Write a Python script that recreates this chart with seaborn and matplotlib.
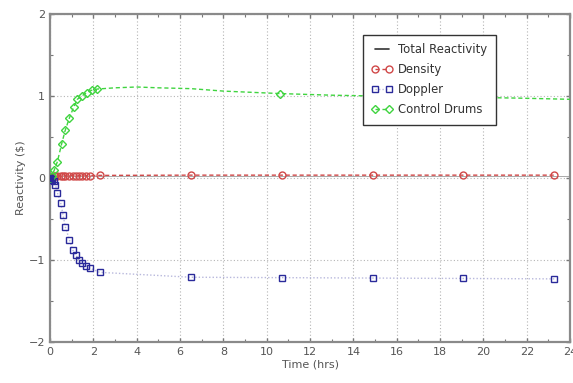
import matplotlib
matplotlib.use("Agg")
import matplotlib.pyplot as plt
import seaborn as sns
import numpy as np
import pandas as pd

# ---- data ----
time_pts = [0.0, 0.05, 0.1, 0.17, 0.25, 0.34, 0.49, 0.6, 0.71, 0.89, 1.05, 1.19,
            1.34, 1.46, 1.65, 1.85, 2.29, 6.5, 10.69, 14.89, 19.07, 23.27]
density = [0.0, 0.01, 0.015, 0.02, 0.025, 0.028, 0.03, 0.03, 0.03, 0.03, 0.03, 0.03,
           0.03, 0.03, 0.03, 0.03, 0.032, 0.035, 0.035, 0.035, 0.035, 0.035]
doppler = [0.0, -0.01, -0.02, -0.04, -0.08, -0.18, -0.30, -0.45, -0.60, -0.75, -0.88, -0.94,
           -1.0, -1.04, -1.07, -1.10, -1.15, -1.21, -1.215, -1.22, -1.225, -1.23]

time_cd = [0.0, 0.1, 0.2, 0.34, 0.54, 0.7, 0.89, 1.1, 1.26, 1.46, 1.69, 1.92, 2.18,
           3.0, 4.0, 5.0, 6.5, 8.0, 10.6, 13.0, 15.0, 17.0, 19.0, 21.5, 24.0]
control_drums = [0.0, 0.03, 0.1, 0.2, 0.42, 0.58, 0.73, 0.87, 0.96, 1.0, 1.04, 1.07, 1.085,
                 1.1, 1.11, 1.1, 1.09, 1.06, 1.03, 1.01, 1.0, 0.99, 0.985, 0.975, 0.96]
cd_marker_idx = [0, 1, 2, 3, 4, 5, 6, 7, 8, 9, 10, 11, 12, 18, 22]

time_total = [0.0, 24.0]
total = [0.02, 0.02]

x_ticks = list(range(0, 25, 2))
y_ticks = [-2, -1, 0, 1, 2]

# ---- figure ----
sns.set_style("ticks")
plt.rcParams['font.family'] = ['DejaVu Sans']
fig, ax = plt.subplots(figsize=(5.73, 3.83), dpi=100)
fig.subplots_adjust(left=0.0873, right=0.995, top=0.9634, bottom=0.107)

red = "#d04848"
blue = "#2a2a9a"
green = "#3fd43f"

sns.lineplot(x=time_total, y=total, ax=ax, color="#222222", lw=0.6, alpha=0.45,
             estimator=None, sort=False, label="Total Reactivity", zorder=2)
sns.lineplot(x=time_pts, y=density, ax=ax, color=red, lw=1.0, linestyle=(0, (3, 2)),
             marker="o", markersize=5, markerfacecolor="none", markeredgecolor=red,
             markeredgewidth=1.0, estimator=None, sort=False, label="Density", zorder=3)
sns.lineplot(x=time_pts, y=doppler, ax=ax, color="#b8b8dc", lw=1.0, linestyle=(0, (1, 1.5)),
             marker="s", markersize=5, markerfacecolor="none", markeredgecolor=blue,
             markeredgewidth=1.0, estimator=None, sort=False, label="Doppler", zorder=3)
sns.lineplot(x=time_cd, y=control_drums, ax=ax, color=green, lw=1.0, linestyle=(0, (3, 2)),
             marker="D", markersize=4, markerfacecolor="none", markeredgecolor=green,
             markeredgewidth=1.0, markevery=cd_marker_idx, estimator=None, sort=False,
             label="Control Drums", zorder=3)

# filled cluster at origin
ax.plot([0], [0], marker="s", color=blue, markersize=5, zorder=4)

ax.set_xlim(0, 24)
ax.set_ylim(-2, 2)
ax.set_xticks(x_ticks)
ax.set_yticks(y_ticks)
ax.set_xticks(np.arange(0, 25, 1), minor=True)
ax.set_yticks(np.arange(-2, 2.01, 0.5), minor=True)
ax.tick_params(which="both", direction="in", colors="#777777", labelcolor="#555555",
               labelsize=8, top=True, right=True)
ax.tick_params(which="major", length=3, width=1)
ax.tick_params(which="minor", length=2, width=0.8)
ax.grid(True, which="major", linestyle=(0, (1, 2)), color="#b5b5b5", lw=0.8)
for s in ax.spines.values():
    s.set_color("#8a8a8a")
    s.set_linewidth(1.6)

ax.set_xlabel("Time (hrs)", fontsize=8, color="#555555", labelpad=2)
ax.set_ylabel("Reactivity (\\$)", fontsize=8, color="#555555", labelpad=2)

handles, labels = ax.get_legend_handles_labels()
handles[0] = plt.Line2D([], [], color="#333333", lw=1.2)
leg = ax.legend(handles, labels, loc="upper left", bbox_to_anchor=(0.59, 0.955),
                fontsize=8.4, numpoints=2, frameon=True, fancybox=False,
                edgecolor="#333333", framealpha=1, handlelength=1.8,
                borderpad=0.75, labelspacing=0.6, handletextpad=0.45)
leg.get_frame().set_linewidth(1.0)
for t in leg.get_texts():
    t.set_color("#333333")

fig.savefig("out.png", dpi=100)
